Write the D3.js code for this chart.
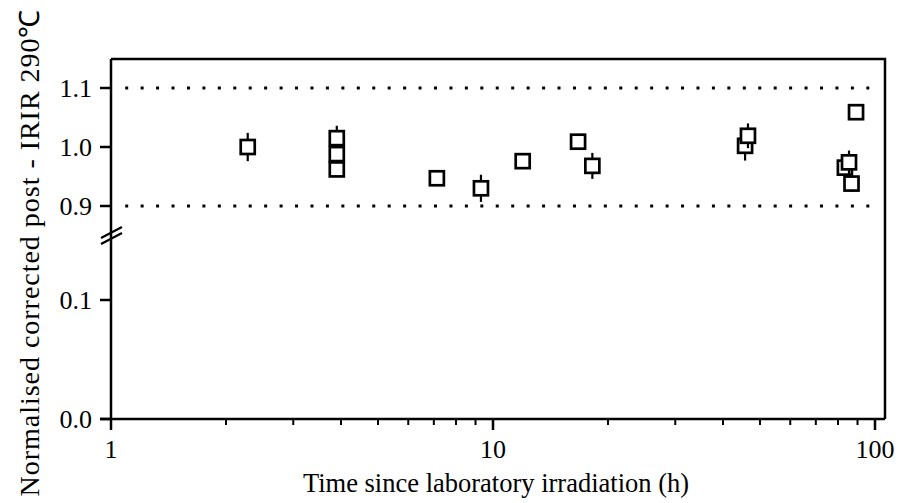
<!DOCTYPE html>
<html>
<head>
<meta charset="utf-8">
<script src="https://cdn.jsdelivr.net/npm/d3@7"></script>
<style>
  html, body { margin: 0; padding: 0; background: #fff; }
  svg { display: block; }
  text { font-family: "Liberation Serif", "Times New Roman", serif; fill: #000; }
</style>
</head>
<body>
<svg id="chart" width="912" height="503"></svg>
<script>
// ---- data ----
const times  = [2.28, 3.9, 3.9, 3.9, 7.13, 9.3, 11.96, 16.7, 18.2, 45.7, 46.5, 83.4, 85.5, 86.8, 89.2];
const values = [1.000, 1.015, 0.988, 0.962, 0.947, 0.930, 0.976, 1.009, 0.968, 1.002, 1.019, 0.965, 0.974, 0.938, 1.059];
const errors = [0.024, 0.021, 0.014, 0.012, 0.011, 0.023, 0.009, 0.009, 0.022, 0.025, 0.021, 0.012, 0.020, 0.014, 0.007];
const refLines = [0.9, 1.1];
const yTicksUpper = [0.9, 1.0, 1.1];
const yTicksLower = [0.0, 0.1];
const xTicksMajor = [1, 10, 100];
const xLabel = "Time since laboratory irradiation (h)";
const yLabel = "Normalised corrected post - IRIR 290\u2103";

// ---- layout ----
const svg = d3.select("#chart");
const L = 111, R = 885, T = 59, B = 419;
const x = d3.scaleLog().domain([1, 100]).range([111, 875]);
const yUp = d3.scaleLinear().domain([0.9, 1.1]).range([206, 88]);
const yLo = d3.scaleLinear().domain([0.0, 0.1]).range([419, 300]);
const y = v => (v >= 0.5 ? yUp(v) : yLo(v));

// frame (top & right)
svg.append("path")
  .attr("d", `M${L},${T} H${R} V${B}`)
  .attr("fill", "none").attr("stroke", "#000").attr("stroke-width", 2.5);

// reference dotted lines
svg.selectAll("line.ref").data(refLines).enter().append("line")
  .attr("class", "ref")
  .attr("x1", 125.2).attr("x2", 870)
  .attr("y1", d => yUp(d)).attr("y2", d => yUp(d))
  .attr("stroke", "#000").attr("stroke-width", 3)
  .attr("stroke-dasharray", "3 12.44");

// x axis
const xAxisG = svg.append("g").attr("transform", `translate(0,${B})`);
xAxisG.append("line").attr("x1", L - 11).attr("x2", R).attr("y1", 0).attr("y2", 0)
  .attr("stroke", "#000").attr("stroke-width", 2.5);
const minor = [];
[1, 10].forEach(dec => { for (let k = 2; k <= 9; k++) minor.push(dec * k); });
xAxisG.selectAll("line.minor").data(minor).enter().append("line")
  .attr("x1", d => x(d)).attr("x2", d => x(d)).attr("y1", 0).attr("y2", 6)
  .attr("stroke", "#000").attr("stroke-width", 2);
xAxisG.selectAll("line.major").data(xTicksMajor).enter().append("line")
  .attr("x1", d => x(d)).attr("x2", d => x(d)).attr("y1", 0).attr("y2", 11)
  .attr("stroke", "#000").attr("stroke-width", 2.5);
xAxisG.selectAll("text").data(xTicksMajor).enter().append("text")
  .attr("x", d => x(d)).attr("y", 39)
  .attr("text-anchor", "middle").attr("font-size", 26)
  .text(d => d);

// y axis
const yAxisG = svg.append("g");
yAxisG.append("line").attr("x1", L).attr("x2", L).attr("y1", T).attr("y2", B)
  .attr("stroke", "#000").attr("stroke-width", 2.5);
const yTicks = yTicksLower.concat(yTicksUpper);
yAxisG.selectAll("line.tick").data(yTicks).enter().append("line")
  .attr("x1", L - 11).attr("x2", L).attr("y1", d => y(d)).attr("y2", d => y(d))
  .attr("stroke", "#000").attr("stroke-width", 2.5);
yAxisG.selectAll("text").data(yTicks).enter().append("text")
  .attr("x", 92).attr("y", d => y(d) + 9)
  .attr("text-anchor", "end").attr("font-size", 26)
  .text(d => d3.format(".1f")(d));

// axis break marks
[0, 6].forEach(off => {
  svg.append("line")
    .attr("x1", 101).attr("y1", 238 + off).attr("x2", 122).attr("y2", 227 + off)
    .attr("stroke", "#000").attr("stroke-width", 2.2);
});

// data points: error bar then square (white fill)
const pts = times.map((t, i) => ({ t, v: values[i], e: errors[i] }));
const pg = svg.append("g");
const half = 7;
pts.forEach(p => {
  const g = pg.append("g");
  g.append("line")
    .attr("x1", x(p.t)).attr("x2", x(p.t))
    .attr("y1", y(p.v + p.e)).attr("y2", y(p.v - p.e))
    .attr("stroke", "#000").attr("stroke-width", 2.2);
  g.append("rect")
    .attr("x", x(p.t) - half).attr("y", y(p.v) - half)
    .attr("width", 2 * half).attr("height", 2 * half)
    .attr("fill", "#fff").attr("stroke", "#000").attr("stroke-width", 2.7);
});

// axis titles
svg.append("text")
  .attr("x", 496).attr("y", 492)
  .attr("text-anchor", "middle").attr("font-size", 26.5)
  .text(xLabel);
svg.append("text")
  .attr("transform", `translate(39,253) rotate(-90)`)
  .attr("text-anchor", "middle").attr("font-size", 28)
  .attr("textLength", 487).attr("lengthAdjust", "spacing")
  .text(yLabel);
</script>
</body>
</html>
